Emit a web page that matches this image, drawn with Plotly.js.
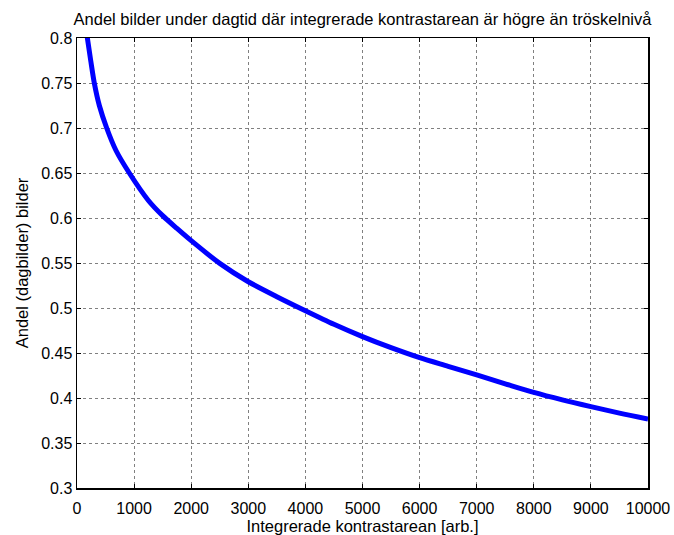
<!DOCTYPE html>
<html>
<head>
<meta charset="utf-8">
<script src="https://cdn.plot.ly/plotly-3.0.1.min.js"></script>
<style>html,body{margin:0;padding:0;background:#fff;}#chart{width:674px;height:535px;}</style>
</head>
<body>
<div id="chart"></div>
<script>
const contrastArea = [170, 240, 303, 391, 520, 683, 916, 1250, 1500, 1750, 2000, 2500, 3000, 3500, 4000, 4500, 5000, 5500, 6000, 6500, 7000, 7500, 8000, 8500, 9000, 9500, 10000];
const shareImages = [0.805, 0.775, 0.75, 0.725, 0.70, 0.675, 0.65, 0.6195, 0.6026, 0.5884, 0.5748, 0.5496, 0.5292, 0.5126, 0.497, 0.4819, 0.4682, 0.4559, 0.4448, 0.4352, 0.4256, 0.4158, 0.4062, 0.3979, 0.3904, 0.3832, 0.3767];
const xTicks = [0, 1000, 2000, 3000, 4000, 5000, 6000, 7000, 8000, 9000, 10000];
const yTicks = [0.3, 0.35, 0.4, 0.45, 0.5, 0.55, 0.6, 0.65, 0.7, 0.75, 0.8];
const yTickText = ['0.3', '0.35', '0.4', '0.45', '0.5', '0.55', '0.6', '0.65', '0.7', '0.75', '0.8'];

const fam = 'Liberation Sans, Arial, sans-serif';
const tickFont = {family: fam, size: 16, color: '#000'};
const labelFont = {family: fam, size: 16.5, color: '#000'};
const axisCommon = {
  showline: true, linecolor: '#000', linewidth: 1.5, mirror: 'ticks',
  ticks: 'inside', ticklen: 4, tickcolor: '#000', tickwidth: 1,
  showgrid: true, gridcolor: '#808080', griddash: 'dot', gridwidth: 1,
  zeroline: false, tickfont: tickFont
};
Plotly.newPlot('chart', [{
  x: contrastArea, y: shareImages, type: 'scatter', mode: 'lines',
  line: {color: '#0000ff', width: 5, shape: 'spline', smoothing: 0.8}, cliponaxis: true
}], {
  width: 674, height: 535,
  margin: {l: 77, r: 26, t: 38, b: 47, pad: 0},
  paper_bgcolor: '#fff', plot_bgcolor: '#fff',
  font: tickFont,
  showlegend: false,
  title: {text: 'Andel bilder under dagtid där integrerade kontrastarean är högre än tröskelnivå',
          font: labelFont,
          xref: 'paper', x: 0.5, xanchor: 'center', yref: 'container', y: 1 - 19.5/535, yanchor: 'middle'},
  xaxis: Object.assign({}, axisCommon, {
    range: [0, 10000], tickvals: xTicks, ticktext: xTicks.map(String),
    ticklabelstandoff: 5,
    title: {text: 'Integrerade kontrastarean [arb.]', font: labelFont, standoff: 2}
  }),
  yaxis: Object.assign({}, axisCommon, {
    range: [0.3, 0.8], tickvals: yTicks, ticktext: yTickText,
    title: {text: 'Andel (dagbilder) bilder', font: labelFont, standoff: 8}
  })
}, {staticPlot: true, displayModeBar: false});
</script>
</body>
</html>
